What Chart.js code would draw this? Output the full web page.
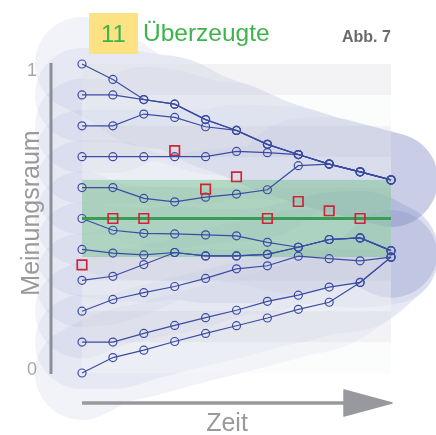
<!DOCTYPE html>
<html lang="de">
<head>
<meta charset="utf-8">
<title>Überzeugte</title>
<script src="https://cdn.jsdelivr.net/npm/chart.js@4/dist/chart.umd.min.js"></script>
<style>
  html, body { margin: 0; padding: 0; background: #ffffff; }
  #wrap { position: relative; width: 436px; height: 435px; overflow: hidden; font-family: "Liberation Sans", Arial, sans-serif; }
  #chart { position: absolute; left: 0; top: 0; }
  .txt { position: absolute; white-space: nowrap; line-height: 1; }
  #badge { position: absolute; left: 89px; top: 13px; width: 49px; height: 41px; background: #fde283; }
  #num { left: 89px; width: 49px; top: 22px; font-size: 24px; color: #3cb44b; text-align: center; }
  #title { left: 143px; top: 21px; font-size: 24.5px; color: #3cb44b; }
  #fig { left: 342px; top: 29px; font-size: 16px; font-weight: bold; color: #6a6a6a; }
  #ylab { left: 29.5px; top: 213px; font-size: 25px; color: #9a9a9a; transform: translate(-50%, -50%) rotate(-90deg); }
  #xlab { left: 227px; top: 410px; font-size: 25px; color: #9a9a9a; transform: translateX(-50%); }
  .tick { width: 20px; text-align: center; font-size: 18px; color: #a8a8a8; }
</style>
</head>
<body>
<div id="wrap">
  <canvas id="chart" width="436" height="435"></canvas>
  <div id="badge"></div>
  <div class="txt" id="num">11</div>
  <div class="txt" id="title">Überzeugte</div>
  <div class="txt" id="fig">Abb. 7</div>
  <div class="txt" id="ylab">Meinungsraum</div>
  <div class="txt" id="xlab">Zeit</div>
</div>
<script>
// Time steps of the simulation
const timeSteps = ['0', '1', '2', '3', '4', '5', '6', '7', '8', '9', '10'];

// Opinion of each agent per time step (0 … 1)
const agent01 = [1.00, 0.950, 0.885, 0.870, 0.820, 0.785, 0.740, 0.707, 0.676, 0.651, 0.625];
const agent02 = [0.90, 0.900, 0.885, 0.870, 0.820, 0.785, 0.740, 0.707, 0.676, 0.651, 0.625];
const agent03 = [0.80, 0.800, 0.838, 0.827, 0.797, 0.785, 0.740, 0.707, 0.676, 0.651, 0.625];
const agent04 = [0.70, 0.700, 0.700, 0.700, 0.700, 0.717, 0.713, 0.707, 0.676, 0.651, 0.625];
const agent05 = [0.60, 0.600, 0.565, 0.554, 0.569, 0.579, 0.593, 0.671, 0.676, 0.651, 0.625];
const agent06 = [0.50, 0.462, 0.452, 0.450, 0.447, 0.444, 0.423, 0.407, 0.432, 0.437, 0.396];
const agent07 = [0.40, 0.388, 0.382, 0.390, 0.379, 0.379, 0.384, 0.407, 0.432, 0.437, 0.396];
const agent08 = [0.30, 0.313, 0.351, 0.390, 0.379, 0.379, 0.384, 0.407, 0.432, 0.437, 0.396];
const agent09 = [0.20, 0.238, 0.260, 0.280, 0.306, 0.337, 0.347, 0.378, 0.370, 0.363, 0.375];
const agent10 = [0.10, 0.100, 0.128, 0.154, 0.179, 0.203, 0.232, 0.252, 0.278, 0.293, 0.375];
const agent11 = [0.00, 0.050, 0.074, 0.102, 0.128, 0.153, 0.178, 0.206, 0.229, 0.293, 0.375];
const agents = [agent01, agent02, agent03, agent04, agent05, agent06, agent07, agent08, agent09, agent10, agent11];

// Position of the convinced group per time step
const convinced = [0.35, 0.50, 0.50, 0.72, 0.595, 0.635, 0.50, 0.555, 0.525, 0.50, null];

// Opinion the convinced group argues for, and the corridor around it
const consensus = [0.5, 0.5, 0.5, 0.5, 0.5, 0.5, 0.5, 0.5, 0.5, 0.5, 0.5];
const corridor = [0.375, 0.625];

// Value axis labels
const yTicks = [0, 1];
const yTickLabels = ['0', '1'];

// Horizontal stripes of the opinion space
const stripeEdges = [0, 0.1, 0.2, 0.3, 0.4, 0.5, 0.6, 0.7, 0.8, 0.9, 1.0];

const LINE_BLUE = 'rgb(60, 76, 163)';
const HALO = 'rgba(128, 138, 200, 0.1)';

const datasets = [];

// Soft influence zone around every opinion trajectory
agents.forEach((values) => {
  datasets.push({
    halo: true, data: values, order: 20,
    borderColor: HALO, borderWidth: 94, borderCapStyle: 'round', borderJoinStyle: 'round',
    cubicInterpolationMode: 'monotone', tension: 0.4, pointRadius: 0, clip: false
  });
});

// Opinion trajectories
agents.forEach((values, i) => {
  datasets.push({
    label: 'Agent ' + (i + 1), data: values, order: 5,
    borderColor: LINE_BLUE, borderWidth: 1.2, tension: 0,
    pointRadius: 4, pointBorderWidth: 1.2, pointBorderColor: LINE_BLUE,
    pointBackgroundColor: 'rgba(0,0,0,0)', clip: false
  });
});

// Opinion of the convinced group
datasets.push({
  label: 'Konsens', data: consensus, order: 2,
  borderColor: 'rgb(58, 156, 84)', borderWidth: 3, pointRadius: 0, tension: 0
});

// Convinced agents
datasets.push({
  label: 'Überzeugte', data: convinced, order: 1, showLine: false,
  pointStyle: 'rect', pointRadius: 6.7, pointBorderWidth: 1.7,
  pointBorderColor: 'rgb(206, 38, 56)', pointBackgroundColor: 'rgba(0,0,0,0)', clip: false
});

const backdrop = {
  id: 'backdrop',
  beforeDraw(chart) { chart.$stripesDone = false; },
  beforeDatasetDraw(chart, args) {
    const ds = chart.data.datasets[args.index];
    if (ds.halo || chart.$stripesDone) return;
    chart.$stripesDone = true;
    const { ctx, chartArea: a, scales: { y } } = chart;
    ctx.save();
    for (let i = 0; i < stripeEdges.length - 1; i++) {
      const top = y.getPixelForValue(stripeEdges[i + 1]);
      const bottom = y.getPixelForValue(stripeEdges[i]);
      ctx.fillStyle = (i % 2 === 1) ? 'rgba(226, 227, 230, 0.42)' : 'rgba(244, 246, 246, 0.38)';
      ctx.fillRect(a.left, top, a.right - a.left, bottom - top);
    }
    const cTop = y.getPixelForValue(corridor[1]);
    const cBottom = y.getPixelForValue(corridor[0]);
    ctx.fillStyle = 'rgba(100, 186, 128, 0.42)';
    ctx.fillRect(a.left, cTop, a.right - a.left, cBottom - cTop);
    ctx.restore();
  },
  afterDatasetsDraw(chart) {
    const { ctx, chartArea: a } = chart;
    ctx.save();
    // value axis
    ctx.strokeStyle = 'rgb(140, 143, 152)';
    ctx.lineWidth = 3;
    ctx.beginPath();
    ctx.moveTo(a.left - 31, a.top - 1);
    ctx.lineTo(a.left - 31, a.bottom + 1);
    ctx.stroke();
    // time arrow
    const ay = a.bottom + 30;
    ctx.strokeStyle = 'rgb(152, 153, 158)';
    ctx.fillStyle = 'rgb(152, 153, 158)';
    ctx.lineWidth = 3.5;
    ctx.beginPath();
    ctx.moveTo(a.left, ay);
    ctx.lineTo(a.right - 44, ay);
    ctx.stroke();
    ctx.lineJoin = 'round';
    ctx.lineWidth = 1.5;
    ctx.beginPath();
    ctx.moveTo(a.right - 47, ay - 13);
    ctx.lineTo(a.right + 1, ay);
    ctx.lineTo(a.right - 47, ay + 13);
    ctx.closePath();
    ctx.fill();
    ctx.stroke();
    ctx.restore();
  }
};

const chart = new Chart(document.getElementById('chart'), {
  type: 'line',
  data: { labels: timeSteps, datasets },
  options: {
    responsive: false,
    animation: false,
    events: [],
    layout: { autoPadding: false, padding: { left: 82, right: 45, top: 64, bottom: 62 } },
    plugins: { legend: { display: false }, tooltip: { enabled: false } },
    scales: {
      x: { type: 'category', display: false, offset: false },
      y: { type: 'linear', display: false, min: 0, max: 1 }
    }
  },
  plugins: [backdrop]
});

// Value axis labels placed on the y scale
const wrap = document.getElementById('wrap');
yTicks.forEach((v, i) => {
  const el = document.createElement('div');
  el.className = 'txt tick';
  el.textContent = yTickLabels[i];
  const py = chart.scales.y.getPixelForValue(v);
  const baseline = v === 1 ? py + 12 : py + 2;
  el.style.left = '22px';
  el.style.top = (baseline - 15.2) + 'px';
  wrap.appendChild(el);
});
</script>
</body>
</html>
